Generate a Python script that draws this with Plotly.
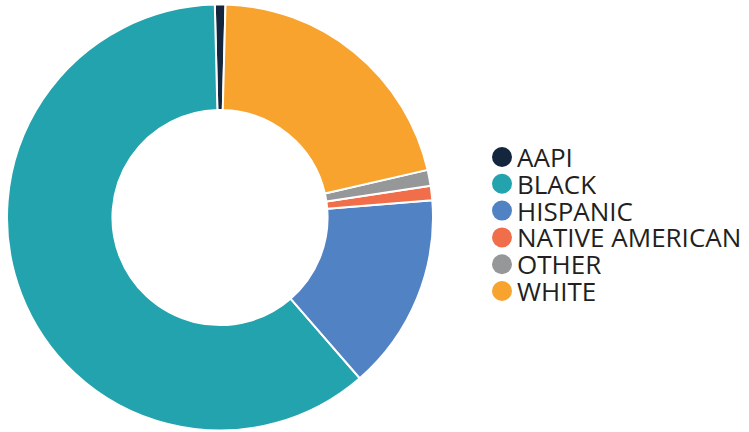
import plotly.graph_objects as go

# Share of group by race / ethnicity (percent)
categories = ["AAPI", "BLACK", "HISPANIC", "NATIVE AMERICAN", "OTHER", "WHITE"]
shares = [0.8, 61.0, 14.9, 1.1, 1.2, 21.0]
colors = ["#13263d", "#22a3ad", "#5082c4", "#f16e4a", "#959799", "#f7a32e"]

W, H = 749, 432

fig = go.Figure()
fig.add_trace(go.Pie(
    labels=categories,
    values=shares,
    sort=False,
    direction="counterclockwise",
    rotation=-1.4,
    hole=0.505,
    marker=dict(colors=colors, line=dict(color="#ffffff", width=2)),
    textinfo="none",
    hoverinfo="label+percent",
    showlegend=False,
    domain=dict(x=[7 / W, 433 / W], y=[1.5 / H, 427.5 / H]),
))

# Circle-marker legend on the right
leg_x_dot = 502
leg_x_text = 516
leg_y0 = 157
leg_dy = 26.8
dot_r = 10
shapes = []
annotations = []
for i, (cat, col) in enumerate(zip(categories, colors)):
    yc = leg_y0 + i * leg_dy
    shapes.append(dict(
        type="circle", xref="paper", yref="paper",
        x0=(leg_x_dot - dot_r) / W, x1=(leg_x_dot + dot_r) / W,
        y0=1 - (yc + dot_r) / H, y1=1 - (yc - dot_r) / H,
        fillcolor=col, line=dict(width=0),
    ))
    annotations.append(dict(
        text=cat, xref="paper", yref="paper",
        x=leg_x_text / W, y=1 - yc / H,
        xanchor="left", yanchor="middle", showarrow=False,
        height=26, valign="middle", borderpad=0,
        font=dict(family="Open Sans", size=26, color="#231f20"),
    ))

fig.update_layout(
    width=W, height=H,
    margin=dict(l=0, r=0, t=0, b=0),
    paper_bgcolor="#ffffff",
    plot_bgcolor="#ffffff",
    shapes=shapes,
    annotations=annotations,
)

fig.write_html("out.html")
